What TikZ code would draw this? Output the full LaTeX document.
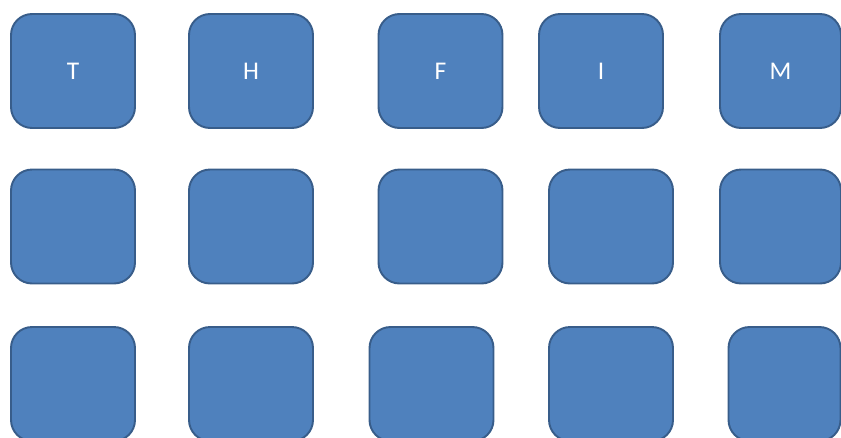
\documentclass[tikz,border=0pt]{standalone}
\usepackage{fontspec}
\setmainfont{Carlito}
\usepackage{xcolor}
\definecolor{tilefill}{HTML}{4F81BD}
\definecolor{tileedge}{HTML}{385D8A}
\usetikzlibrary{positioning}

\begin{document}
\begin{tikzpicture}[
    x=0.02cm,y=-0.02cm,
    tile/.style={draw=tileedge,line width=1.1pt,fill=tilefill,rounded corners=0.42cm,
      minimum width=2.48cm,minimum height=2.28cm,inner sep=0pt,
      text=white,font=\fontsize{14.5}{16}\selectfont},
    narrowtile/.style={tile,minimum width=2.42cm},
    slimtile/.style={tile,minimum width=2.24cm}
  ]
  \useasboundingbox (0,0) rectangle (841,437);
  % first row, lettered
  \node[tile] (t) at (73,71) {T};
  \node[tile] (h) at (251,71) {H};
  \node[tile] (f) at (440.5,71) {F};
  \node[tile] (i) at (601,71) {I};
  \node[narrowtile] (m) at (780.5,71) {M};
  % second row
  \node[tile] (r2a) at (73,226.5) {};
  \node[tile] (r2b) at (251,226.5) {};
  \node[tile] (r2c) at (440.5,226.5) {};
  \node[tile] (r2d) at (611,226.5) {};
  \node[narrowtile] (r2e) at (780.5,226.5) {};
  % third row
  \node[tile] (r3a) at (73,384) {};
  \node[tile] (r3b) at (251,384) {};
  \node[tile] (r3c) at (431.5,384) {};
  \node[tile] (r3d) at (611,384) {};
  \node[slimtile] (r3e) at (784.5,384) {};
\end{tikzpicture}
\end{document}
